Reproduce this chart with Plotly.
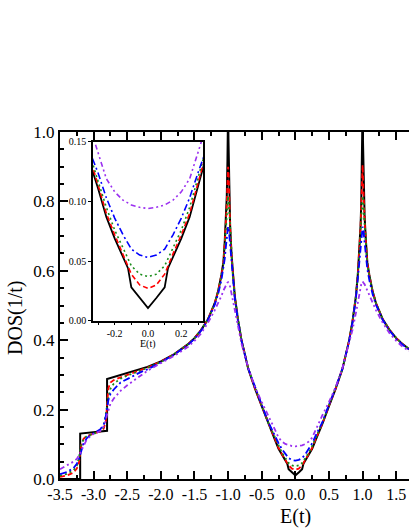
import plotly.graph_objects as go

# ---------------- data ----------------
E_black = [-3.5, -3.2, -3.2, -3.0, -2.8, -2.8, -2.6, -2.4, -2.2, -2.0,
           -1.8, -1.6, -1.5, -1.4, -1.3, -1.2, -1.15, -1.1, -1.07, -1.05,
           -1.03, -1.02, -1.01, -1.005, -1.0, -0.995, -0.99, -0.98, -0.97, -0.95,
           -0.93, -0.9, -0.85, -0.8, -0.7, -0.6, -0.5, -0.4, -0.35, -0.3,
           -0.25, -0.2, -0.15, -0.12, -0.1, -0.05, 0.0, 0.05, 0.1, 0.12,
           0.15, 0.2, 0.25, 0.3, 0.35, 0.4, 0.5, 0.6, 0.7, 0.8,
           0.85, 0.9, 0.93, 0.95, 0.97, 0.98, 0.99, 0.995, 1.0, 1.005,
           1.01, 1.02, 1.03, 1.05, 1.07, 1.1, 1.15, 1.2, 1.3, 1.4,
           1.5, 1.6, 1.7]
DOS_black = [0.0, 0.0, 0.131, 0.135, 0.139, 0.288, 0.299, 0.311, 0.323, 0.339,
             0.360, 0.388, 0.406, 0.430, 0.460, 0.506, 0.540, 0.588, 0.625, 0.684,
             0.756, 0.814, 0.915, 0.98, 1.08, 0.98, 0.906, 0.796, 0.731, 0.649,
             0.592, 0.526, 0.454, 0.399, 0.317, 0.260, 0.210, 0.158, 0.133, 0.111,
             0.087, 0.069, 0.053, 0.044, 0.028, 0.019, 0.0105, 0.019, 0.028, 0.044,
             0.053, 0.069, 0.087, 0.111, 0.133, 0.158, 0.210, 0.260, 0.317, 0.399,
             0.454, 0.526, 0.592, 0.649, 0.731, 0.796, 0.906, 0.98, 1.08, 0.98,
             0.915, 0.814, 0.756, 0.684, 0.625, 0.588, 0.540, 0.506, 0.460, 0.430,
             0.406, 0.388, 0.373]

E_grid = [-3.5, -3.4, -3.3, -3.25, -3.22, -3.2, -3.18, -3.15, -3.1, -3.0,
          -2.9, -2.85, -2.82, -2.8, -2.78, -2.75, -2.7, -2.6, -2.5, -2.4,
          -2.3, -2.2, -2.0,
          -1.8, -1.6, -1.5, -1.4, -1.3, -1.2, -1.15, -1.1, -1.07, -1.05,
          -1.03, -1.02, -1.01, -1.0, -0.99, -0.98, -0.97, -0.95, -0.93, -0.9,
          -0.85, -0.8, -0.7, -0.6, -0.5, -0.4,
          -0.35, -0.3, -0.25, -0.2, -0.15, -0.1, -0.05, 0.0, 0.05, 0.1,
          0.15, 0.2, 0.25, 0.3, 0.35,
          0.4, 0.5, 0.6, 0.7, 0.8, 0.85, 0.9, 0.93, 0.95, 0.97,
          0.98, 0.99, 1.0, 1.01, 1.02, 1.03, 1.05, 1.07, 1.1, 1.15,
          1.2, 1.3, 1.4, 1.5, 1.6, 1.7]

DOS_red = [0.006, 0.010, 0.018, 0.030, 0.045, 0.072, 0.100, 0.116, 0.124, 0.131,
           0.137, 0.145, 0.165, 0.213, 0.262, 0.278, 0.285, 0.293, 0.300, 0.308,
           0.315, 0.321, 0.338,
           0.360, 0.388, 0.406, 0.430, 0.460, 0.506, 0.540, 0.587, 0.622, 0.680,
           0.745, 0.790, 0.850, 0.900, 0.870, 0.790, 0.728, 0.647, 0.591, 0.525,
           0.454, 0.399, 0.318, 0.261, 0.211, 0.159,
           0.137, 0.114, 0.090, 0.072, 0.056, 0.039, 0.030, 0.027, 0.030, 0.039,
           0.056, 0.072, 0.090, 0.114, 0.137,
           0.159, 0.211, 0.261, 0.318, 0.399, 0.454, 0.525, 0.591, 0.647, 0.728,
           0.790, 0.870, 0.905, 0.850, 0.790, 0.745, 0.680, 0.622, 0.587, 0.540,
           0.506, 0.460, 0.430, 0.406, 0.388, 0.373]

DOS_green = [0.010, 0.015, 0.025, 0.038, 0.060, 0.080, 0.100, 0.115, 0.124, 0.130,
             0.138, 0.150, 0.180, 0.210, 0.235, 0.260, 0.275, 0.289, 0.298, 0.305,
             0.313, 0.320, 0.337,
             0.360, 0.388, 0.406, 0.430, 0.460, 0.506, 0.540, 0.585, 0.618, 0.670,
             0.725, 0.760, 0.795, 0.815, 0.800, 0.760, 0.715, 0.643, 0.588, 0.524,
             0.454, 0.399, 0.318, 0.262, 0.212, 0.161,
             0.140, 0.117, 0.095, 0.076, 0.061, 0.046, 0.039, 0.037, 0.039, 0.046,
             0.061, 0.076, 0.095, 0.117, 0.140,
             0.161, 0.212, 0.262, 0.318, 0.399, 0.454, 0.524, 0.588, 0.643, 0.715,
             0.760, 0.800, 0.815, 0.795, 0.760, 0.725, 0.670, 0.618, 0.585, 0.540,
             0.506, 0.460, 0.430, 0.406, 0.388, 0.373]

DOS_blue = [0.014, 0.020, 0.031, 0.044, 0.056, 0.070, 0.086, 0.103, 0.118, 0.132,
            0.143, 0.157, 0.180, 0.207, 0.228, 0.245, 0.258, 0.278, 0.289, 0.298,
            0.308, 0.316, 0.336,
            0.359, 0.386, 0.404, 0.428, 0.458, 0.502, 0.532, 0.573, 0.605, 0.635,
            0.675, 0.700, 0.720, 0.727, 0.720, 0.700, 0.675, 0.625, 0.580, 0.520,
            0.452, 0.398, 0.318, 0.263, 0.214, 0.163,
            0.142, 0.124, 0.103, 0.086, 0.072, 0.060, 0.055, 0.053, 0.055, 0.060,
            0.072, 0.086, 0.103, 0.124, 0.142,
            0.163, 0.214, 0.263, 0.318, 0.398, 0.452, 0.520, 0.580, 0.625, 0.675,
            0.700, 0.720, 0.727, 0.720, 0.700, 0.675, 0.635, 0.605, 0.573, 0.532,
            0.502, 0.458, 0.428, 0.404, 0.386, 0.372]

DOS_purple = [0.028, 0.038, 0.050, 0.058, 0.066, 0.074, 0.083, 0.097, 0.115, 0.130,
              0.138, 0.152, 0.168, 0.185, 0.200, 0.217, 0.232, 0.254, 0.270, 0.284,
              0.300, 0.312, 0.334,
              0.355, 0.380, 0.398, 0.420, 0.450, 0.486, 0.505, 0.527, 0.543, 0.552,
              0.561, 0.564, 0.566, 0.567, 0.565, 0.561, 0.554, 0.535, 0.512, 0.478,
              0.430, 0.390, 0.320, 0.265, 0.222, 0.183,
              0.163, 0.141, 0.119, 0.108, 0.101, 0.097, 0.095, 0.094, 0.095, 0.097,
              0.101, 0.108, 0.119, 0.141, 0.163,
              0.183, 0.222, 0.265, 0.320, 0.390, 0.430, 0.478, 0.512, 0.535, 0.554,
              0.561, 0.565, 0.569, 0.566, 0.564, 0.561, 0.552, 0.543, 0.527, 0.505,
              0.486, 0.450, 0.420, 0.398, 0.380, 0.368]

for arr in (DOS_red, DOS_green, DOS_blue, DOS_purple):
    assert len(arr) == len(E_grid), (len(arr), len(E_grid))
assert len(E_black) == len(DOS_black), (len(E_black), len(DOS_black))

main_xtick_vals = [-3.5, -3.0, -2.5, -2.0, -1.5, -1.0, -0.5, 0.0, 0.5, 1.0, 1.5]
main_xtick_text = ["-3.5", "-3.0", "-2.5", "-2.0", "-1.5", "-1.0", "-0.5", "0.0", "0.5", "1.0", "1.5"]
main_ytick_vals = [0.0, 0.2, 0.4, 0.6, 0.8, 1.0]
main_ytick_text = ["0.0", "0.2", "0.4", "0.6", "0.8", "1.0"]
inset_xtick_vals = [-0.2, 0.0, 0.2]
inset_xtick_text = ["-0.2", "0.0", "0.2"]
inset_ytick_vals = [0.0, 0.05, 0.10, 0.15]
inset_ytick_text = ["0.00", "0.05", "0.10", "0.15"]

# ---------------- figure ----------------
FONT = "Liberation Serif"
series = [
    (E_black, DOS_black, "#000000", "solid", 2.0),
    (E_grid, DOS_red, "#FF0000", "5px,3px", 1.8),
    (E_grid, DOS_green, "#1A8C1A", "2px,3px", 1.8),
    (E_grid, DOS_blue, "#0000FF", "7px,3px,2px,3px", 1.8),
    (E_grid, DOS_purple, "#9B30F0", "5px,3px,2px,3px,2px,3px", 1.8),
]

fig = go.Figure()
for x, y, c, d, w in series:
    fig.add_trace(go.Scatter(x=x, y=y, mode="lines", xaxis="x", yaxis="y",
                             line=dict(color=c, width=w, dash=d), showlegend=False))
for x, y, c, d, w in series:
    fig.add_trace(go.Scatter(x=x, y=y, mode="lines", xaxis="x2", yaxis="y2",
                             line=dict(color=c, width=w - 0.2, dash=d), showlegend=False))

L, R, T, B = 60, 0, 132, 50
W, H = 409, 529
pw, ph = W - L - R, H - T - B

def px2paper_x(px):
    return (px - L) / pw

def px2paper_y(py):
    return (H - B - py) / ph

fig.update_layout(
    width=W, height=H,
    margin=dict(l=L, r=R, t=T, b=B, pad=0),
    paper_bgcolor="white", plot_bgcolor="white",
    font=dict(family=FONT, color="black"),
    xaxis=dict(range=[-3.5, 1.69], domain=[0, 1], anchor="y",
               tickmode="array", tickvals=main_xtick_vals, ticktext=main_xtick_text,
               ticks="inside", ticklen=8, tickwidth=1.5, tickcolor="black",
               minor=dict(tickmode="linear", tick0=-3.5, dtick=0.25, ticks="inside",
                          ticklen=4, tickwidth=1.5, tickcolor="black"),
               showline=True, linewidth=2, linecolor="black", mirror="ticks",
               showgrid=False, zeroline=False,
               tickfont=dict(size=16, family=FONT)),
    yaxis=dict(range=[0, 1.0], domain=[0, 1], anchor="x",
               tickmode="array", tickvals=main_ytick_vals, ticktext=main_ytick_text,
               ticks="inside", ticklen=8, tickwidth=1.5, tickcolor="black",
               minor=dict(tickmode="linear", tick0=0, dtick=0.05, ticks="inside",
                          ticklen=4, tickwidth=1.5, tickcolor="black"),
               showline=True, linewidth=2, linecolor="black", mirror=False,
               showgrid=False, zeroline=False,
               tickfont=dict(size=17, family=FONT)),
    xaxis2=dict(range=[-0.33, 0.33], domain=[px2paper_x(93), px2paper_x(203)], anchor="y2",
                tickmode="array", tickvals=inset_xtick_vals, ticktext=inset_xtick_text,
                ticks="outside", ticklen=3, tickwidth=1, tickcolor="black",
                minor=dict(tickvals=[-0.3, -0.1, 0.1, 0.3], ticks="outside", ticklen=3,
                           tickwidth=1, tickcolor="black"),
                showline=True, linewidth=1.5, linecolor="black", mirror=True,
                showgrid=False, zeroline=False,
                tickfont=dict(size=10, family=FONT)),
    yaxis2=dict(range=[0, 0.15], domain=[px2paper_y(320.7), px2paper_y(141.7)], anchor="x2",
                tickmode="array", tickvals=inset_ytick_vals, ticktext=inset_ytick_text,
                ticks="outside", ticklen=3, tickwidth=1, tickcolor="black",
                showline=True, linewidth=1.5, linecolor="black", mirror=True,
                showgrid=False, zeroline=False,
                tickfont=dict(size=10, family=FONT)),
    annotations=[
        dict(text="E(t)", xref="x", yref="paper", x=0.0, y=px2paper_y(516),
             xanchor="center", yanchor="middle", showarrow=False,
             font=dict(size=20, family=FONT)),
        dict(text="DOS(1/t)", xref="paper", yref="paper", x=px2paper_x(15),
             y=px2paper_y(318), xanchor="center", yanchor="middle", textangle=-90,
             showarrow=False, font=dict(size=20, family=FONT)),
        dict(text="E(t)", xref="x2", yref="paper", x=0.0, y=px2paper_y(344),
             xanchor="center", yanchor="middle", showarrow=False,
             font=dict(size=10, family=FONT)),
    ],
)

fig.write_html("out.html", config={"displayModeBar": False})

# remove the browser's default page margin so the figure sits at the window's corner
with open("out.html", "r", encoding="utf-8") as f:
    html = f.read()
html = html.replace("<head>", "<head><style>html,body{margin:0;padding:0;overflow:hidden;}</style>", 1)
with open("out.html", "w", encoding="utf-8") as f:
    f.write(html)
